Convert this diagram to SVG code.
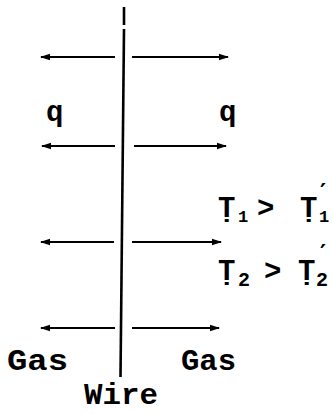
<svg xmlns="http://www.w3.org/2000/svg" width="332" height="414" viewBox="0 0 332 414">
<style>
.t{font-family:"Liberation Mono","DejaVu Sans Mono",monospace;font-weight:bold;fill:#000}
.big{font-size:29px}
.sub{font-size:17px}
.sub2{font-size:20px}
.pr{font-size:23px;font-family:"DejaVu Sans","Liberation Sans",sans-serif}
.ln{stroke:#000;stroke-width:2;fill:none}
.wire{stroke:#000;stroke-width:2.6;fill:none}
</style>
<defs>
<marker id="ah" viewBox="0 0 10 8" refX="9" refY="4" markerWidth="10" markerHeight="8" markerUnits="userSpaceOnUse" orient="auto">
<path d="M0,0.8 L10,4 L0,7.2 Z" fill="#000"/>
</marker>
</defs>
<g id="wire">
<line class="wire" x1="124" y1="7" x2="124" y2="25"/>
<line class="wire" x1="124" y1="29" x2="120.5" y2="377"/>
</g>
<g id="connectors">
<line class="ln" x1="115" y1="57" x2="41" y2="57" marker-end="url(#ah)"/>
<line class="ln" x1="132" y1="57" x2="228" y2="57" marker-end="url(#ah)"/>
<line class="ln" x1="115" y1="146" x2="42" y2="146" marker-end="url(#ah)"/>
<line class="ln" x1="134" y1="146" x2="226" y2="146" marker-end="url(#ah)"/>
<line class="ln" x1="114" y1="242" x2="41" y2="242" marker-end="url(#ah)"/>
<line class="ln" x1="132" y1="242" x2="221" y2="242" marker-end="url(#ah)"/>
<line class="ln" x1="115" y1="328" x2="41" y2="328" marker-end="url(#ah)"/>
<line class="ln" x1="132" y1="328" x2="219" y2="328" marker-end="url(#ah)"/>
</g>
<g id="q-left"><text class="t big" x="46" y="121">q</text></g>
<g id="q-right"><text class="t big" x="219" y="121">q</text></g>
<g id="t1">
<text class="t big" x="218" y="217">T&#x323;</text>
<text class="t sub" x="238" y="222">1</text>
<text class="t big" x="257" y="217">&gt;</text>
<text class="t big" x="300" y="217">T&#x323;</text>
<text class="t sub" x="319" y="222">1</text>
<text class="t pr" x="320" y="200">′</text>
</g>
<g id="t2">
<text class="t big" x="218" y="280">T&#x323;</text>
<text class="t sub2" x="238" y="286">2</text>
<text class="t big" x="264" y="280">&gt;</text>
<text class="t big" x="298" y="280">T&#x323;</text>
<text class="t sub2" x="316" y="286">2</text>
<text class="t pr" x="320" y="261">′</text>
</g>
<g id="gas-left"><text class="t big" x="7" y="370" textLength="61" lengthAdjust="spacingAndGlyphs">Gas</text></g>
<g id="gas-right"><text class="t big" x="181" y="370" textLength="55" lengthAdjust="spacingAndGlyphs">Gas</text></g>
<g id="wire-label"><text class="t big" x="84" y="404" textLength="74" lengthAdjust="spacingAndGlyphs">Wire</text></g>
</svg>
